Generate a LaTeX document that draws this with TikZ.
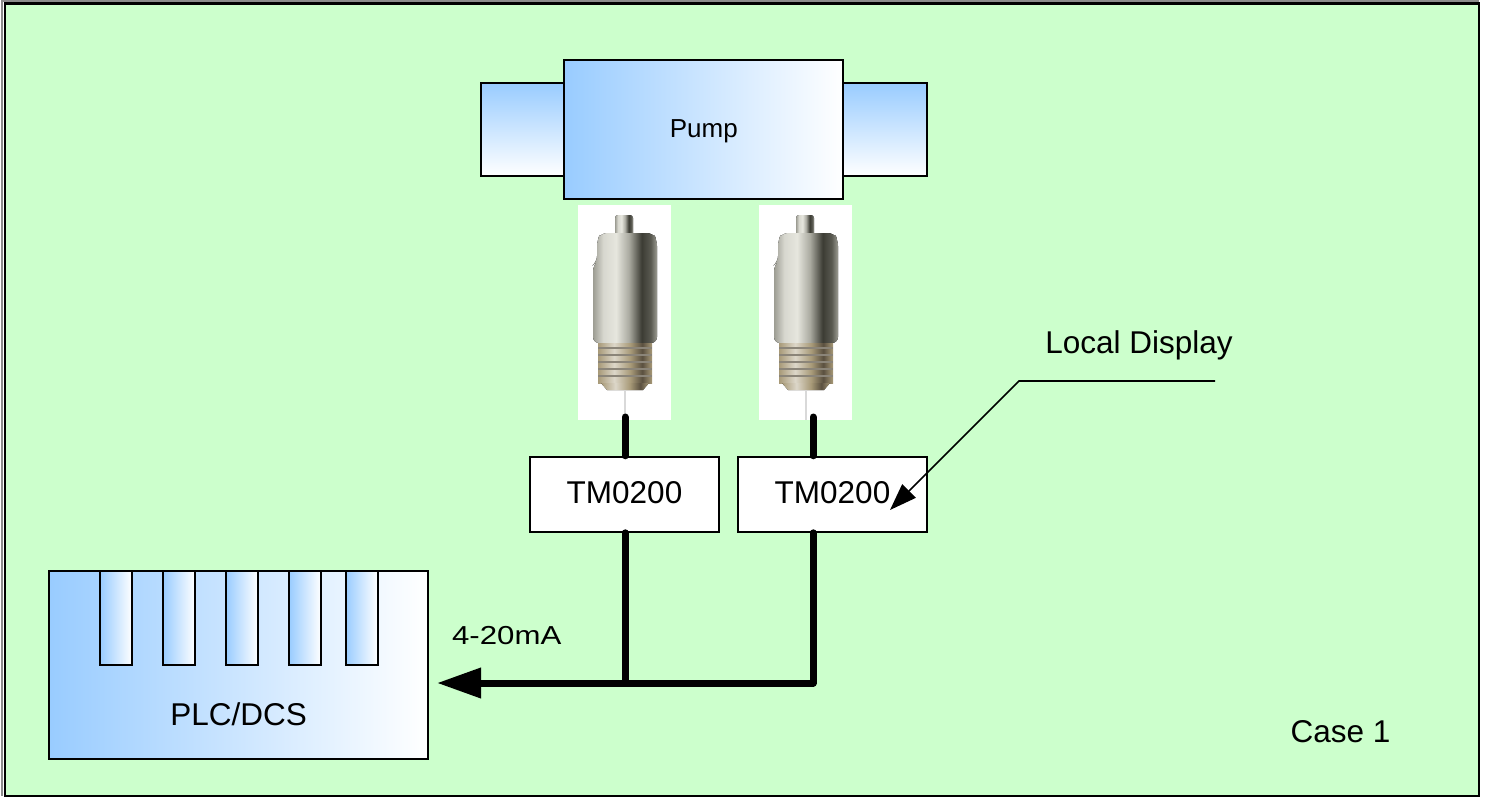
\documentclass[tikz,border=0pt]{standalone}
\usepackage{fontspec}
\setmainfont{Liberation Sans}
\usetikzlibrary{arrows.meta}
\definecolor{bggreen}{HTML}{CCFFCC}
\definecolor{lblue}{HTML}{99CCFF}
\definecolor{mlight}{HTML}{E6E6DE}
\definecolor{mmid}{HTML}{9C9C92}
\definecolor{mdark}{HTML}{3C3C34}
\definecolor{brass}{HTML}{A89A78}
\definecolor{brassd}{HTML}{5A5040}
\pgfdeclarehorizontalshading{metal}{100bp}{color(0bp)=(mmid); color(25bp)=(mmid); color(33bp)=(mlight!80!mmid); color(43bp)=(mlight); color(53bp)=(mmid!80!mlight); color(63bp)=(mdark); color(70bp)=(mdark!70!mmid); color(75bp)=(mmid); color(100bp)=(mmid)}
\pgfdeclarehorizontalshading{brassmetal}{100bp}{color(0bp)=(brass); color(25bp)=(brass); color(40bp)=(brass!40!white); color(55bp)=(brass); color(66bp)=(brassd); color(75bp)=(brass); color(100bp)=(brass)}
\tikzset{
  outline/.style={draw=black, line width=2pt},
  hgrad/.style={outline, left color=lblue, right color=white},
  vgrad/.style={outline, top color=lblue, bottom color=white},
  tmbox/.style={outline, fill=white, minimum width=189pt, minimum height=75pt, inner sep=0pt},
  txt/.style={inner sep=0pt, anchor=base, font=\fontsize{31.5}{36}\selectfont},
  bus/.style={line width=7pt, line join=round, line cap=round},
}
\newcommand\sensordraw[2]{%
  \begin{scope}[shift={(#1,0)}]
    \node[fill=white, minimum width=93pt, minimum height=215pt, inner sep=0pt] (#2) at (-0.5,312.5) {};
    \fill[shading=metal, rounded corners=3pt] (-10,240) -- (-10,215) -- (8,215) -- (8,240) -- cycle;
    \fill[shading=metal, rounded corners=6pt] (-32,343) -- (-32,265) -- (-28,262) -- (-28,240) -- (-24,233) -- (28,233) -- (32,240) -- (32,343) -- cycle;
    \fill[shading=brassmetal] (-27,343) rectangle (27,383);
    \foreach \yy in {348,355,362,369,376} {\draw[brassd!70, line width=1.5pt] (-27,\yy) -- (27,\yy);}
    \fill[shading=brassmetal] (-24,383) -- (24,383) -- (18,390) -- (-18,390) -- cycle;
    \draw[black!15, line width=2pt] (0,390) -- (0,420);
  \end{scope}}
\begin{document}
\begin{tikzpicture}[x=1pt, y=-1pt]
  \useasboundingbox (0,0) rectangle (1488,798);
  \fill[white] (0,0) rectangle (1488,798);
  \draw[black!45, line width=1.5pt] (2,796) -- (2,1) -- (1479,1);
  \draw[line width=2.5pt, fill=bggreen] (5,3.5) rectangle (1479,796);

  % pump
  \node[vgrad, minimum width=83pt, minimum height=93pt, inner sep=0pt] (pipeL) at (522.5,129.7) {};
  \node[vgrad, minimum width=84pt, minimum height=93pt, inner sep=0pt] (pipeR) at (885.3,129.7) {};
  \node[hgrad, minimum width=279pt, minimum height=139pt, inner sep=0pt] (pump) at (703.8,129.5) {};
  \node[txt, font=\fontsize{26}{30}\selectfont] (pumplabel) at (703.8,137.3) {Pump};

  % sensors
  \sensordraw{625}{sensorL}
  \sensordraw{806}{sensorR}

  % transmitters
  \node[tmbox] (tm1) at (624.5,494.3) {};
  \node[tmbox] (tm2) at (832.5,494.3) {};
  \node[txt] (tm1label) at (624.5,503.3) {TM0200};
  \node[txt] (tm2label) at (832.5,503.3) {TM0200};

  % PLC
  \node[hgrad, minimum width=378.4pt, minimum height=188.6pt, inner sep=0pt] (plc) at (238.5,665) {};
  \foreach \cx [count=\i] in {116.2,179,242,305,361.5} {
    \node[hgrad, minimum width=32pt, minimum height=94.3pt, inner sep=0pt] (slot\i) at (\cx,617.85) {};
  }
  \node[txt] (plclabel) at (238.7,725) {PLC/DCS};

  % wiring
  \coordinate (wL) at (625,417);
  \coordinate (wR) at (813,417);
  \coordinate (tip) at (437,683);
  \draw[bus] (wL) -- (wL |- tm1.north);
  \draw[bus] (wR) -- (wR |- tm2.north);
  \draw[bus] (wL |- tm1.south) -- (wL |- tip);
  \draw[bus, -{Triangle[length=44pt,width=29pt]}] (wR |- tm2.south) -- (wR |- tip) -- (tip);
  \node[txt, font=\fontsize{26}{30}\selectfont, xscale=1.2] (ma) at (506.7,644.3) {4-20mA};

  % local display callout
  \node[txt] (ldlabel) at (1139,353) {Local Display};
  \coordinate (ld1) at (1215,381);
  \coordinate (ld2) at (1019,381);
  \coordinate (ld3) at (890,510);
  \draw[line width=1.6pt, -{Triangle[length=27pt,width=19pt]}] (ld1) -- (ld2) -- (ld3);

  \node[txt] (case) at (1340.5,742.5) {Case 1};
\end{tikzpicture}
\end{document}
